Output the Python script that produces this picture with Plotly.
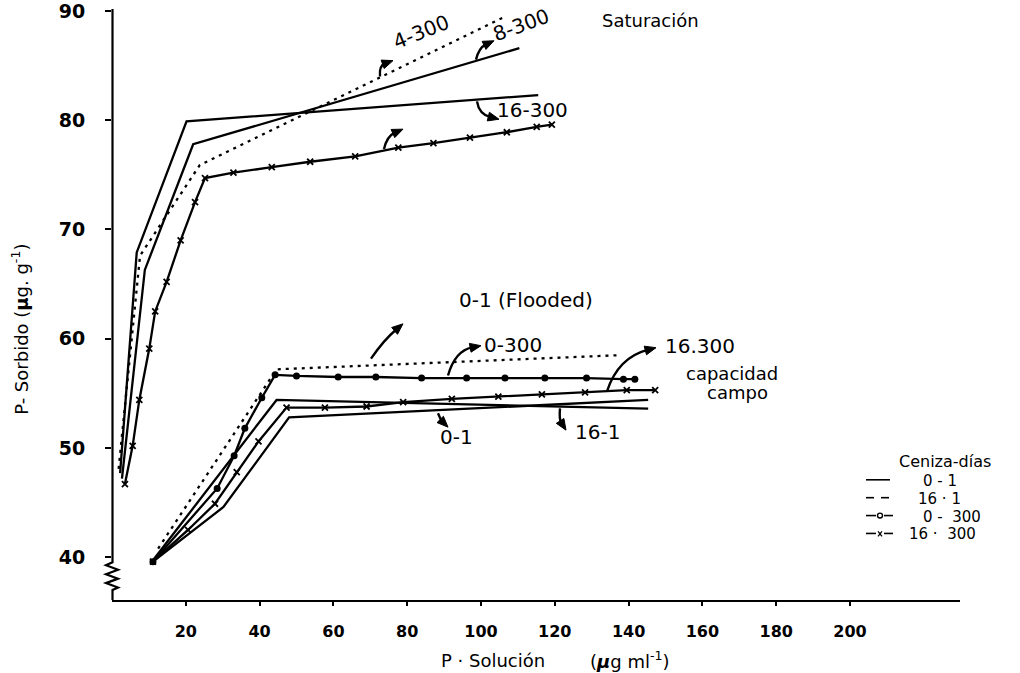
import math
import plotly.graph_objects as go

# ---------------- data: P-Solución (µg/ml) vs P-Sorbido (µg/g) ----------------
# Saturación group
sat_16_300_x = [2.2, 6.7, 20.2, 115.5]
sat_16_300_y = [47.7, 67.9, 79.9, 82.3]

sat_8_300_x = [2.7, 8.9, 22.0, 110.4]
sat_8_300_y = [47.2, 66.3, 77.8, 86.6]

sat_4_300_x = [1.8, 7.6, 14.8, 23.8, 106.0]
sat_4_300_y = [48.1, 67.6, 71.3, 75.9, 89.4]

sat_marked_x = [3.5, 5.6, 7.4, 10.1, 11.7, 14.8, 18.6, 22.5, 25.2, 32.9, 43.3,
                53.7, 65.9, 77.6, 87.1, 97.0, 107.0, 115.1, 119.2]
sat_marked_y = [46.7, 50.2, 54.4, 59.1, 62.5, 65.2, 69.0, 72.5, 74.7, 75.2, 75.7,
                76.2, 76.7, 77.5, 77.9, 78.4, 78.9, 79.4, 79.6]

# Capacidad de campo group
cc_flooded_x = [12.5, 44.6, 137.7]
cc_flooded_y = [40.8, 57.2, 58.5]

cc_0_300_x = [11.1, 28.5, 33.1, 36.0, 40.6, 44.2, 50.0, 61.3, 71.5, 83.9, 96.1,
              106.5, 117.3, 128.6, 138.6, 141.7]
cc_0_300_y = [39.6, 46.3, 49.3, 51.8, 54.6, 56.7, 56.6, 56.5, 56.5, 56.4, 56.4,
              56.4, 56.4, 56.4, 56.3, 56.3]

cc_16_300_x = [11.1, 20.6, 27.9, 33.8, 39.7, 47.3, 57.7, 69.0, 78.9, 92.1, 104.7,
               116.5, 128.2, 139.5, 147.2]
cc_16_300_y = [39.6, 42.5, 44.9, 47.8, 50.6, 53.7, 53.7, 53.8, 54.2, 54.5, 54.7,
               54.9, 55.1, 55.3, 55.3]

cc_0_1_x = [11.1, 30.2, 48.0, 145.3]
cc_0_1_y = [39.6, 44.6, 52.8, 54.4]

cc_16_1_x = [10.6, 44.6, 145.3]
cc_16_1_y = [39.5, 54.4, 53.6]

x_ticks = [20, 40, 60, 80, 100, 120, 140, 160, 180, 200]
y_ticks = [40, 50, 60, 70, 80, 90]

# ---------------- layout geometry (pixels) ----------------
W, H = 1020, 673
ML, MR, MT, MB = 112, 60, 0, 73
PW, PH = W - ML - MR, H - MT - MB
FONT = "DejaVu Sans"
INK = "black"
NB = "\u00a0"


def pp(px, py):
    """pixel position -> paper coordinates"""
    return (px - ML) / PW, (MT + PH - py) / PH


def path_of(points, closed=False):
    parts = []
    for i, (px, py) in enumerate(points):
        x, y = pp(px, py)
        parts.append(("M" if i == 0 else "L") + f"{x:.5f},{y:.5f}")
    return " ".join(parts) + (" Z" if closed else "")


shapes = []


def add_poly(points, width=2.0, closed=False, fill=None):
    d = dict(type="path", xref="paper", yref="paper", path=path_of(points, closed),
             line=dict(color=INK, width=width), layer="above")
    if fill:
        d["fillcolor"] = fill
    shapes.append(d)


def curved_arrow(tail, ctrl, head, head_len=11, head_w=4.5):
    dx, dy = head[0] - ctrl[0], head[1] - ctrl[1]
    d = math.hypot(dx, dy)
    ux, uy = dx / d, dy / d
    bx, by = head[0] - ux * head_len * 0.8, head[1] - uy * head_len * 0.8
    t = pp(*tail)
    c = pp(*ctrl)
    b = pp(bx, by)
    shapes.append(dict(type="path", xref="paper", yref="paper",
                       path=f"M{t[0]:.5f},{t[1]:.5f} Q{c[0]:.5f},{c[1]:.5f} {b[0]:.5f},{b[1]:.5f}",
                       line=dict(color=INK, width=2.4), layer="above"))
    hb = (head[0] - ux * head_len, head[1] - uy * head_len)
    left = (hb[0] - uy * head_w, hb[1] + ux * head_w)
    right = (hb[0] + uy * head_w, hb[1] - ux * head_w)
    add_poly([head, left, right], width=1, closed=True, fill=INK)


annotations = []


def label(text, px, py, size=20, angle=0, anchor="center"):
    x, y = pp(px, py)
    annotations.append(dict(text=text, x=x, y=y, xref="paper", yref="paper",
                            xanchor=anchor, yanchor="middle", showarrow=False,
                            borderpad=0, textangle=angle,
                            font=dict(family=FONT, size=size, color=INK)))


fig = go.Figure()


def line_trace(xs, ys, dash="solid", symbol=None, msize=8):
    tr = dict(x=xs, y=ys, mode="lines", showlegend=False, hoverinfo="skip",
              line=dict(color=INK, width=2.3, dash=dash))
    if symbol:
        tr["mode"] = "lines+markers"
        if symbol == "circle":
            tr["marker"] = dict(symbol="circle", size=msize, color=INK)
        else:
            tr["marker"] = dict(symbol=symbol, size=msize, color=INK,
                                line=dict(color=INK, width=1.8))
    fig.add_trace(go.Scatter(**tr))


DOT = "3px,5px"
line_trace(sat_16_300_x, sat_16_300_y)
line_trace(sat_8_300_x, sat_8_300_y)
line_trace(sat_4_300_x, sat_4_300_y, dash=DOT)
line_trace(sat_marked_x, sat_marked_y, symbol="x-thin", msize=6)

line_trace(cc_flooded_x, cc_flooded_y, dash=DOT)
line_trace(cc_0_300_x, cc_0_300_y, symbol="circle", msize=7)
line_trace(cc_16_300_x, cc_16_300_y, symbol="x-thin", msize=6)
line_trace(cc_0_1_x, cc_0_1_y)
line_trace(cc_16_1_x, cc_16_1_y)

# y axis line with break symbol near the origin
add_poly([(112.5, 5), (112.5, 562), (106, 565), (118, 569.5), (106, 574), (118, 578.5),
          (106, 583), (118, 587.5), (112.5, 590), (112.5, 600)], width=2.2)

# curve labels and arrows
label("4-300", 421, 28, angle=-22)
curved_arrow((380, 73), (379, 62), (393, 57))
label("8-300", 521, 21, angle=-20)
curved_arrow((476, 56), (479, 44), (494, 37))
label("16-300", 532, 107)
curved_arrow((477, 98), (479, 111), (499, 116))
curved_arrow((384, 146), (387, 133), (403, 126))
label("Saturación", 650, 17, size=18)

label("0-1 (Flooded)", 526, 298, size=20)
curved_arrow((371, 357), (384, 338), (403, 322))
label("0-300", 513, 343)
curved_arrow((448, 374), (455, 349), (481, 344))
label("16.300", 700, 344)
curved_arrow((607, 390), (618, 356), (656, 346))
label("capacidad", 732, 372, size=18)
label("campo", 737, 391, size=18)
label("0-1", 456, 436)
curved_arrow((438, 412), (441, 419), (448, 426))
label("16-1", 597, 431)
curved_arrow((560, 407), (559, 418), (566, 429))

# style key
KEY_ROWS = [480, 498, 516, 534]
label("Ceniza-días", 945, 461, size=16)
label("0 - 1", 940, KEY_ROWS[0], size=15)
label("16 · 1", 939, KEY_ROWS[1], size=15)
label(f"0 -{NB}{NB}300", 952, KEY_ROWS[2], size=15)
label(f"16 ·{NB}{NB}300", 942, KEY_ROWS[3], size=15)
r0, r1, r2, r3 = [r - 1 for r in KEY_ROWS]
add_poly([(866, r0), (890, r0)], width=1.6)
add_poly([(866, r1), (874, r1)], width=1.6)
add_poly([(881, r1), (889, r1)], width=1.6)
add_poly([(866, r2), (876, r2)], width=1.6)
add_poly([(884, r2), (893, r2)], width=1.6)
cx0, cy0 = pp(877.5, r2 + 2.5)
cx1, cy1 = pp(882.5, r2 - 2.5)
shapes.append(dict(type="circle", xref="paper", yref="paper", x0=cx0, y0=cy0, x1=cx1, y1=cy1,
                   line=dict(color=INK, width=1.4)))
add_poly([(866, r3), (876, r3)], width=1.6)
add_poly([(884, r3), (893, r3)], width=1.6)
add_poly([(878, r3 - 2), (882, r3 + 3)], width=1.3)
add_poly([(882, r3 - 2), (878, r3 + 3)], width=1.3)

# axis titles
label("P · Solución", 493, 661, size=18)
label("(<b><i>µ</i></b>g ml<sup>-1</sup>)", 630, 660, size=18)
label("P- Sorbido (<b>µ</b>g. g<sup>-1</sup>)", 20, 328, size=18, angle=-90)

y_lo = 40 - (MT + PH - 557) / 11.0
y_hi = 40 + (557 - MT) / 11.0

fig.update_layout(
    width=W, height=H,
    margin=dict(l=ML, r=MR, t=MT, b=MB, pad=0),
    paper_bgcolor="white", plot_bgcolor="white",
    showlegend=False,
    shapes=shapes, annotations=annotations,
    xaxis=dict(range=[0, 848 / 3.69], tickvals=x_ticks, ticks="outside", ticklen=4,
               tickwidth=2, tickcolor=INK, showline=True, linecolor=INK, linewidth=2.2,
               showgrid=False, zeroline=False, ticklabelstandoff=12,
               tickfont=dict(family=FONT, size=16, color=INK, weight="bold")),
    yaxis=dict(range=[y_lo, y_hi], tickvals=y_ticks, ticks="outside", ticklen=6,
               tickwidth=2, tickcolor=INK, showline=False, showgrid=False, zeroline=False,
               ticklabelstandoff=16, ticklabeloverflow="allow",
               tickfont=dict(family=FONT, size=19, color=INK, weight="bold")),
)

fig.write_html("out.html")
